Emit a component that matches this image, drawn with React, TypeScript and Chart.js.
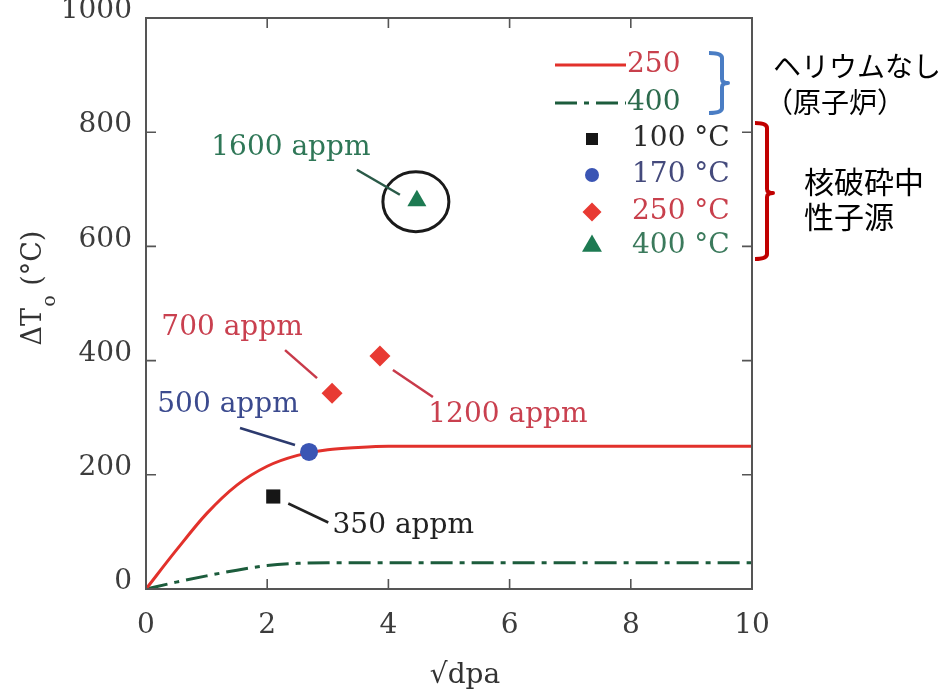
import React, { useEffect, useRef } from "react";
import { Chart, registerables } from "chart.js";

Chart.register(...registerables);

// ---------------- data ----------------
// Helium-free (reactor) curves
const reactor250X = [0, 0.5, 1, 1.5, 2, 2.5, 3, 3.5, 4, 5, 6, 8, 10];
const reactor250Y = [0, 68, 132, 182, 215, 234, 244, 248, 250, 250, 250, 250, 250];
const reactor400X = [0, 0.5, 1, 1.5, 2, 2.5, 3, 4, 6, 8, 10];
const reactor400Y = [0, 12, 23, 33, 41, 45, 46, 46, 46, 46, 46];

// Spallation neutron source points
const spall100X = [2.1];
const spall100Y = [162];
const spall170X = [2.69];
const spall170Y = [240];
const spall250X = [3.07, 3.86];
const spall250Y = [343, 408];
const spall400X = [4.47];
const spall400Y = [680];

const xTickValues = [0, 2, 4, 6, 8, 10];
const yTickValues = [0, 200, 400, 600, 800, 1000];

const legendLabels = ["250", "400", "100 °C", "170 °C", "250 °C", "400 °C"];
const calloutTexts = ["1600 appm", "700 appm", "1200 appm", "500 appm", "350 appm"];
const reactorNote = ["ヘリウムなし", "（原子炉）"];
const spallationNote = ["核破砕中", "性子源"];
const xTitle = "√dpa";
const yTitleMain = "ΔT";
const yTitleSub = "o";
const yTitleUnit = " (°C)";

// ---------------- styles ----------------
const SERIF = "'DejaVu Serif', 'Liberation Serif', serif";
const CJK = "'Noto Sans CJK JP', 'Noto Sans', sans-serif";
const RED = "#e2312b";
const GREEN_LINE = "#1c5c3c";
const BLACK_PT = "#161616";
const BLUE_PT = "#3a55b4";
const RED_PT = "#e83a33";
const GREEN_PT = "#1d7a52";
const AXIS = "#555555";

const toXY = (xs: number[], ys: number[]) => xs.map((x, i) => ({ x, y: ys[i] }));

// legend layout (pixel positions of rows)
const legendRowsY = [65, 103, 139, 175, 212, 246];
const legendTextColors = ["#c8404c", "#2d6b4d", "#2a2a2a", "#444a7c", "#c8404c", "#3b7a5c"];

// callouts: anchored to a data point (dataset index, point index), offsets in px
const callouts = [
  { ds: 5, pt: 0, color: "#2f7757", line: "#2a5a48", tx: -126, ty: -53, l: [-60, -31, -17, -6] },
  { ds: 4, pt: 0, color: "#c9404f", line: "#c83a4a", tx: -100, ty: -65, l: [-47, -43, -15, -15] },
  { ds: 4, pt: 1, color: "#c9404f", line: "#c83a4a", tx: 128, ty: 59, l: [13, 14, 53, 41] },
  { ds: 3, pt: 0, color: "#3b4a8e", line: "#2c3a6e", tx: -81, ty: -47, l: [-69, -24, -14, -7] },
  { ds: 2, pt: 0, color: "#222222", line: "#222222", tx: 130, ty: 29, l: [15, 7, 55, 26] },
];

function drawMarker(ctx: CanvasRenderingContext2D, style: string, x: number, y: number, r: number, color: string) {
  ctx.save();
  ctx.fillStyle = color;
  ctx.beginPath();
  if (style === "rect") {
    const s = r * Math.SQRT1_2;
    ctx.rect(x - s, y - s, 2 * s, 2 * s);
  } else if (style === "circle") {
    ctx.arc(x, y, r, 0, Math.PI * 2);
  } else if (style === "rectRot") {
    ctx.moveTo(x, y - r);
    ctx.lineTo(x + r, y);
    ctx.lineTo(x, y + r);
    ctx.lineTo(x - r, y);
    ctx.closePath();
  } else {
    for (let k = 0; k < 3; k++) {
      const a = (k * 2 * Math.PI) / 3;
      const px = x + Math.sin(a) * r;
      const py = y - Math.cos(a) * r;
      if (k === 0) ctx.moveTo(px, py);
      else ctx.lineTo(px, py);
    }
    ctx.closePath();
  }
  ctx.fill();
  ctx.restore();
}

function drawBrace(
  ctx: CanvasRenderingContext2D,
  x0: number, xm: number, xt: number,
  yTop: number, yMid: number, yBot: number,
  color: string
) {
  ctx.save();
  ctx.strokeStyle = color;
  ctx.lineWidth = 4;
  ctx.lineCap = "butt";
  ctx.lineJoin = "round";
  ctx.beginPath();
  ctx.moveTo(x0, yTop);
  ctx.quadraticCurveTo(xm, yTop, xm, yTop + 5);
  ctx.lineTo(xm, yMid - 4);
  ctx.quadraticCurveTo(xm, yMid, xt, yMid);
  ctx.quadraticCurveTo(xm, yMid, xm, yMid + 4);
  ctx.lineTo(xm, yBot - 5);
  ctx.quadraticCurveTo(xm, yBot, x0, yBot);
  ctx.stroke();
  ctx.restore();
}

const decorPlugin = {
  id: "decor",
  afterDraw(chart: any) {
    const ctx: CanvasRenderingContext2D = chart.ctx;
    const { left, right, top, bottom } = chart.chartArea;
    const xs = chart.scales.x;
    const ys = chart.scales.y;
    const TICK = 10;

    ctx.save();
    // inward ticks on all four sides
    ctx.strokeStyle = AXIS;
    ctx.lineWidth = 1.6;
    ctx.beginPath();
    yTickValues.slice(1, -1).forEach((v) => {
      const y = ys.getPixelForValue(v);
      ctx.moveTo(left, y);
      ctx.lineTo(left + TICK, y);
      ctx.moveTo(right, y);
      ctx.lineTo(right - TICK, y);
    });
    xTickValues.slice(1, -1).forEach((v) => {
      const x = xs.getPixelForValue(v);
      ctx.moveTo(x, bottom);
      ctx.lineTo(x, bottom - TICK);
      ctx.moveTo(x, top);
      ctx.lineTo(x, top + TICK);
    });
    ctx.stroke();
    // frame
    ctx.lineWidth = 2;
    ctx.strokeRect(left, top, right - left, bottom - top);

    // axis titles
    ctx.fillStyle = "#333333";
    ctx.font = `28px ${SERIF}`;
    ctx.textAlign = "center";
    ctx.textBaseline = "middle";
    ctx.fillText(xTitle, 465, 676);

    // y title (rotated, with subscript)
    ctx.save();
    ctx.translate(41, 288);
    ctx.rotate(-Math.PI / 2);
    ctx.textAlign = "left";
    ctx.textBaseline = "alphabetic";
    ctx.font = `27px ${SERIF}`;
    const wMain = ctx.measureText(yTitleMain).width;
    const wUnit = ctx.measureText(yTitleUnit).width;
    ctx.font = `19px ${SERIF}`;
    const wSub = ctx.measureText(yTitleSub).width;
    const total = wMain + wSub + 2 + wUnit;
    let cx = -total / 2;
    ctx.font = `27px ${SERIF}`;
    ctx.fillText(yTitleMain, cx, 0);
    cx += wMain + 1;
    ctx.font = `19px ${SERIF}`;
    ctx.fillText(yTitleSub, cx, 14);
    cx += wSub + 1;
    ctx.font = `27px ${SERIF}`;
    ctx.fillText(yTitleUnit, cx, 0);
    ctx.restore();

    // circle around the 400 °C point
    const triMeta = chart.getDatasetMeta(5);
    const tri = triMeta.data[0];
    ctx.strokeStyle = "#1a1a1a";
    ctx.lineWidth = 3;
    ctx.beginPath();
    ctx.ellipse(tri.x - 1, tri.y + 1, 33, 30, 0, 0, Math.PI * 2);
    ctx.stroke();

    // callouts
    callouts.forEach((c, i) => {
      const p = chart.getDatasetMeta(c.ds).data[c.pt];
      ctx.strokeStyle = c.line;
      ctx.lineWidth = 2.5;
      ctx.beginPath();
      ctx.moveTo(p.x + c.l[0], p.y + c.l[1]);
      ctx.lineTo(p.x + c.l[2], p.y + c.l[3]);
      ctx.stroke();
      ctx.fillStyle = c.color;
      ctx.font = `28px ${SERIF}`;
      ctx.textAlign = "center";
      ctx.textBaseline = "middle";
      ctx.fillText(calloutTexts[i], p.x + c.tx, p.y + c.ty);
    });

    // legend
    const dsets = chart.data.datasets;
    dsets.forEach((d: any, i: number) => {
      const y = legendRowsY[i];
      if (d.showLine) {
        ctx.save();
        ctx.strokeStyle = d.borderColor;
        ctx.lineWidth = d.borderWidth;
        ctx.setLineDash(d.borderDash || []);
        ctx.beginPath();
        ctx.moveTo(555, y);
        ctx.lineTo(626, y);
        ctx.stroke();
        ctx.restore();
        ctx.fillStyle = legendTextColors[i];
        ctx.font = `28px ${SERIF}`;
        ctx.textAlign = "left";
        ctx.textBaseline = "middle";
        ctx.fillText(d.label, 627, y);
      } else {
        const legendR: any = { rect: 8.5, circle: 7, rectRot: 9.5, triangle: 11.5 };
        drawMarker(ctx, d.pointStyle, 592, y, legendR[d.pointStyle], d.backgroundColor);
        ctx.fillStyle = legendTextColors[i];
        ctx.font = `28px ${SERIF}`;
        ctx.textAlign = "left";
        ctx.textBaseline = "middle";
        ctx.fillText(d.label, 632, y);
      }
    });

    // notes outside the plot
    drawBrace(ctx, 709, 722, 728, 53, 83, 113, "#4a7dc4");
    drawBrace(ctx, 755, 767, 773, 123, 193, 259, "#c00000");
    ctx.fillStyle = "#000000";
    ctx.textAlign = "left";
    ctx.textBaseline = "middle";
    ctx.font = `28px ${CJK}`;
    ctx.fillText(reactorNote[0], 773, 66);
    ctx.fillText(reactorNote[1], 765, 102);
    ctx.font = `30px ${CJK}`;
    ctx.fillText(spallationNote[0], 804, 182);
    ctx.fillText(spallationNote[1], 804, 217);

    ctx.restore();
  },
};

export default function App() {
  const canvasRef = useRef<HTMLCanvasElement | null>(null);

  useEffect(() => {
    const canvas = canvasRef.current;
    if (!canvas) return;
    const chart = new Chart(canvas, {
      type: "scatter",
      data: {
        datasets: [
          {
            label: legendLabels[0],
            data: toXY(reactor250X, reactor250Y),
            showLine: true,
            borderColor: RED,
            backgroundColor: RED,
            borderWidth: 3,
            pointRadius: 0,
            cubicInterpolationMode: "monotone",
            order: 2,
          },
          {
            label: legendLabels[1],
            data: toXY(reactor400X, reactor400Y),
            showLine: true,
            borderColor: GREEN_LINE,
            backgroundColor: GREEN_LINE,
            borderWidth: 3,
            borderDash: [22, 7, 5, 7],
            pointRadius: 0,
            cubicInterpolationMode: "monotone",
            order: 2,
          },
          {
            label: legendLabels[2],
            data: toXY(spall100X, spall100Y),
            pointStyle: "rect",
            pointRadius: 10,
            backgroundColor: BLACK_PT,
            borderColor: BLACK_PT,
            borderWidth: 0,
            order: 1,
          },
          {
            label: legendLabels[3],
            data: toXY(spall170X, spall170Y),
            pointStyle: "circle",
            pointRadius: 9,
            backgroundColor: BLUE_PT,
            borderColor: BLUE_PT,
            borderWidth: 0,
            order: 1,
          },
          {
            label: legendLabels[4],
            data: toXY(spall250X, spall250Y),
            pointStyle: "rectRot",
            pointRadius: 10.5,
            backgroundColor: RED_PT,
            borderColor: RED_PT,
            borderWidth: 0,
            order: 1,
          },
          {
            label: legendLabels[5],
            data: toXY(spall400X, spall400Y),
            pointStyle: "triangle",
            pointRadius: 11,
            backgroundColor: GREEN_PT,
            borderColor: GREEN_PT,
            borderWidth: 0,
            order: 1,
          },
        ],
      } as any,
      options: {
        responsive: false,
        animation: false,
        devicePixelRatio: 1,
        events: [],
        layout: { padding: { left: 0, top: 18, right: 190, bottom: 0 } },
        plugins: {
          legend: { display: false },
          tooltip: { enabled: false },
          title: { display: false },
        },
        scales: {
          x: {
            type: "linear",
            min: xTickValues[0],
            max: xTickValues[xTickValues.length - 1],
            grid: { display: false, drawTicks: false },
            border: { display: false },
            afterBuildTicks: (s: any) => {
              s.ticks = xTickValues.map((v) => ({ value: v }));
            },
            afterFit: (s: any) => {
              s.height = 105;
              s.paddingLeft = 0;
              s.paddingRight = 0;
            },
            ticks: {
              color: "#3c3c3c",
              font: { family: SERIF, size: 28 },
              padding: 20,
              maxRotation: 0,
              autoSkip: false,
              callback: (v: any) => String(v),
            },
          },
          y: {
            type: "linear",
            min: yTickValues[0],
            max: yTickValues[yTickValues.length - 1],
            grid: { display: false, drawTicks: false },
            border: { display: false },
            afterBuildTicks: (s: any) => {
              s.ticks = yTickValues.map((v) => ({ value: v }));
            },
            afterFit: (s: any) => {
              s.width = 146;
              s.paddingTop = 0;
              s.paddingBottom = 0;
            },
            ticks: {
              color: "#3c3c3c",
              font: { family: SERIF, size: 28 },
              padding: 14,
              labelOffset: -7,
              autoSkip: false,
              callback: (v: any) => String(v),
            },
          },
        },
      } as any,
      plugins: [decorPlugin],
    });
    return () => chart.destroy();
  }, []);

  return (
    <div style={{ position: "absolute", left: 0, top: 0, width: 942, height: 694, background: "#ffffff" }}>
      <canvas ref={canvasRef} width={942} height={694} style={{ display: "block", width: 942, height: 694 }} />
    </div>
  );
}
